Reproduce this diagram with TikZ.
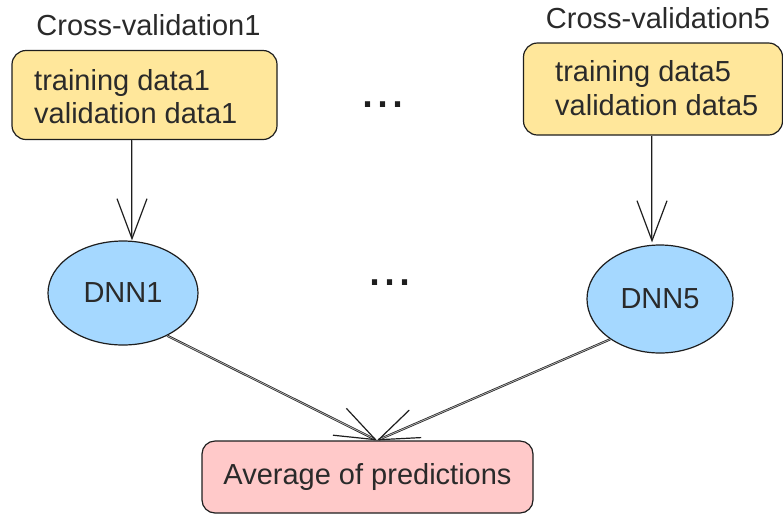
\documentclass[tikz,border=0pt]{standalone}
\usepackage{fontspec}
\setmainfont{Liberation Sans}
\usetikzlibrary{arrows.meta,shapes.geometric}
\definecolor{ink}{HTML}{1E1E1E}
\definecolor{txt}{HTML}{2A2A2A}
\definecolor{cvfill}{HTML}{FFE79B}
\definecolor{dnnfill}{HTML}{A5D8FF}
\definecolor{avgfill}{HTML}{FFC9C9}
\tikzset{
  every node/.style={text=txt, font=\fontsize{29}{35}\selectfont},
  cvbox/.style={draw=ink, line width=1.2pt, fill=cvfill, rounded corners=14pt, inner sep=0pt},
  dnn/.style={ellipse, draw=ink, line width=1.2pt, fill=dnnfill, inner sep=0pt},
  avgbox/.style={draw=ink, line width=1.2pt, fill=avgfill, rounded corners=13pt, inner sep=0pt},
  lbl/.style={inner sep=0pt, anchor=base},
  line/.style={inner sep=0pt, anchor=base west},
  dots/.style={inner sep=0pt, anchor=base, font=\fontsize{54}{60}\selectfont, text=ink},
  conn/.style={draw=ink, line width=0.7pt, double=gray!60, double distance=0.8pt,
    -{Straight Barb[length=40pt, width=30pt, line width=1.2pt]}},
}
\begin{document}
\begin{tikzpicture}[x=1pt, y=-1pt]
\useasboundingbox (0,0) rectangle (783,515);

% fold headings
\node[lbl] (h1) at (148.5,35) {Cross-validation1};
\node[lbl] (h5) at (658,28) {Cross-validation5};

% data split boxes
\node[cvbox, minimum width=265pt, minimum height=89pt] (b1) at (144.5,95) {};
\node[line] (b1a) at (34,90.5) {training data1};
\node[line] (b1b) at (34,123) {validation data1};

\node[cvbox, minimum width=259pt, minimum height=92pt] (b5) at (653,89) {};
\node[line] (b5a) at (555,81) {training data5};
\node[line] (b5b) at (555,115) {validation data5};

% networks
\node[dnn, minimum width=150pt, minimum height=104pt] (d1) at (123,293) {DNN1};
\node[dnn, minimum width=146pt, minimum height=108pt] (d5) at (660,299) {DNN5};

% ensemble output
\node[avgbox, minimum width=331pt, minimum height=72pt] (avg) at (367.5,477) {Average of predictions};

% ellipses between folds
\node[dots] (e1) at (383,107) {...};
\node[dots] (e2) at (390,285) {...};

% connectors
\draw[conn] ([xshift=-12.5pt]b1.south) -- ([xshift=9pt]d1.north);
\draw[conn] ([xshift=-1pt]b5.south) -- ([xshift=-8pt, yshift=2pt]d5.north);
\draw[conn] (d1.-44) -- ([xshift=9.5pt]avg.north);
\draw[conn] (d5.-141) -- ([xshift=9.5pt]avg.north);
\end{tikzpicture}
\end{document}
